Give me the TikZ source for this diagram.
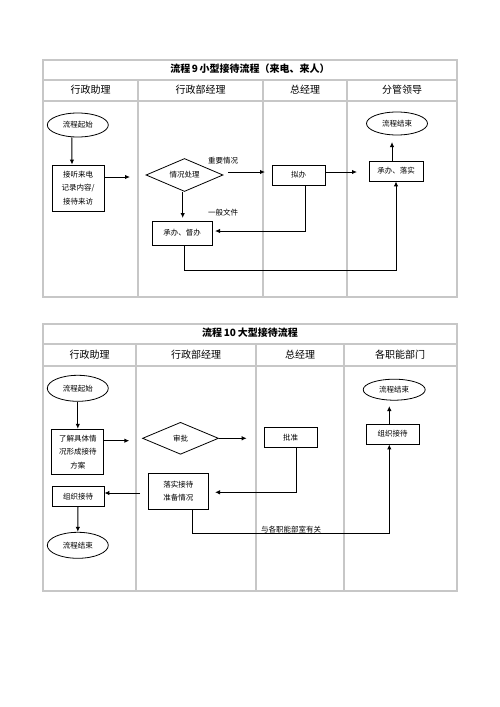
\documentclass[tikz,border=0pt]{standalone}
\usepackage{fontspec}
\setmainfont{Noto Sans CJK SC}
\usetikzlibrary{shapes.geometric,arrows.meta}

\begin{document}
\begin{tikzpicture}[x=1pt, y=-1pt,
  tablerule/.style={draw=black!22, line width=1.3pt},
  box/.style={rectangle, draw, line width=0.8pt, inner sep=0pt, align=center, font=\fontsize{7.5}{13.5}\selectfont},
  oval/.style={ellipse, draw, line width=0.8pt, inner sep=0pt, font=\fontsize{7.5}{9}\selectfont},
  dia/.style={diamond, draw, line width=0.8pt, inner sep=0pt, aspect=2.3, font=\fontsize{7.5}{9}\selectfont},
  arr/.style={-{Latex[length=5pt,width=4.5pt]}, line width=1pt},
  lbl/.style={font=\fontsize{7.5}{9}\selectfont, inner sep=1pt},
  head/.style={font=\fontsize{10}{12}\selectfont}]
\useasboundingbox (0,0) rectangle (500,707);

% Small reception table
\draw[tablerule] (43,60) rectangle (457,297);
\draw[tablerule] (43,80) -- (457,80);
\draw[tablerule] (43,101) -- (457,101);
\foreach \x in {138,263,347}
  \draw[tablerule] (\x,80) -- (\x,297);
\node[head, font=\fontsize{10}{12}\selectfont\bfseries] (title1) at (250,69) {流程\,9\,小型接待流程（来电、来人）};
\node[head] (h11) at (90.5,90) {行政助理};
\node[head] (h12) at (200.5,90) {行政部经理};
\node[head] (h13) at (305,90) {总经理};
\node[head] (h14) at (402,90) {分管领导};

\node[oval, minimum width=61, minimum height=24] (start1) at (77.8,125) {流程起始};
\node[box, minimum width=52, minimum height=46] (rec1) at (78,188) {接听来电\\记录内容/\\接待来访};
\node[dia, minimum width=77, minimum height=33] (judge1) at (184.5,175) {情况处理};
\node[box, minimum width=53, minimum height=20] (draft1) at (298.5,175) {拟办};
\node[box, minimum width=54, minimum height=20] (impl1) at (396,171) {承办、落实};
\node[oval, minimum width=61, minimum height=23] (end1) at (397,123.5) {流程结束};
\node[box, minimum width=60, minimum height=24] (do1) at (182,233) {承办、督办};
\node[lbl] (imp1) at (223,161) {重要情况};
\node[lbl] (gen1) at (223,213) {一般文件};

\coordinate (r1) at (130,177);
\coordinate (j1) at (228,172);
\coordinate (j2) at (265,172);
\coordinate (d1) at (357,172);
\coordinate (e1) at (392,142);
\coordinate (o1) at (182.7,218);
\coordinate (k1) at (305,231);
\coordinate (k2) at (215,231);
\coordinate (u1) at (396,270);
\draw[arr] ([xshift=-6pt]start1.south) -- ([xshift=-6pt]rec1.north);
\draw[arr] (rec1.east |- r1) -- (r1);
\draw[arr] (j1) -- (j2);
\draw[arr] (draft1.east |- d1) -- (d1);
\draw[arr] (impl1.north -| e1) -- (e1);
\draw[arr] (judge1.south -| o1) -- (o1);
\draw[arr] (draft1.south -| k1) -- (k1) -- (k2);
\draw[arr] ([xshift=2pt]do1.south) |- (u1) -- (impl1.south -| u1);

% Large reception table
\draw[tablerule] (43,324) rectangle (457,591);
\draw[tablerule] (43,344) -- (457,344);
\draw[tablerule] (43,366) -- (457,366);
\foreach \x in {136,256,344}
  \draw[tablerule] (\x,344) -- (\x,591);
\node[head, font=\fontsize{10}{12}\selectfont\bfseries] (title2) at (250,333) {流程\,10\,大型接待流程};
\node[head] (h21) at (89.5,355) {行政助理};
\node[head] (h22) at (196,355) {行政部经理};
\node[head] (h23) at (300,355) {总经理};
\node[head] (h24) at (400,355) {各职能部门};

\node[oval, minimum width=61, minimum height=26] (start2) at (77.8,388.3) {流程起始};
\node[box, minimum width=52, minimum height=45] (plan2) at (77.8,451.7) {了解具体情\\况形成接待\\方案};
\node[dia, minimum width=76, minimum height=32] (approve2) at (180.5,438.3) {审批};
\node[box, minimum width=53, minimum height=20] (ok2) at (290.7,437.3) {批准};
\node[box, minimum width=60, minimum height=36] (ready2) at (178.3,491) {落实接待\\准备情况};
\node[box, minimum width=52, minimum height=20] (org2) at (78,496.7) {组织接待};
\node[oval, minimum width=61, minimum height=26] (end2) at (77.8,545.3) {流程结束};
\node[box, minimum width=53, minimum height=20] (org3) at (392.7,434) {组织接待};
\node[oval, minimum width=62, minimum height=21] (end3) at (394.2,389.7) {流程结束};
\node[lbl] (rel2) at (291,529.5) {与各职能部室有关};

\coordinate (p2) at (129.3,440.7);
\coordinate (a2) at (246.7,438.3);
\coordinate (q2) at (296.7,492.3);
\coordinate (q3) at (215,492.3);
\coordinate (g2) at (140,493);
\coordinate (w1) at (192.7,533);
\coordinate (w2) at (389.3,533);
\coordinate (n3) at (389.3,406);
\draw[arr] (start2.south) -- (plan2.north);
\draw[arr] (plan2.east |- p2) -- (p2);
\draw[arr] (approve2.east) -- (a2);
\draw[arr] (ok2.south -| q2) -- (q2) -- (q3);
\draw[arr] (g2) -- (org2.east |- g2);
\draw[arr] (org2.south) -- (end2.north);
\draw[arr] (ready2.south -| w1) -- (w1) -- (w2) -- (org3.south -| w2);
\draw[arr] (org3.north -| n3) -- (n3);
\end{tikzpicture}
\end{document}
